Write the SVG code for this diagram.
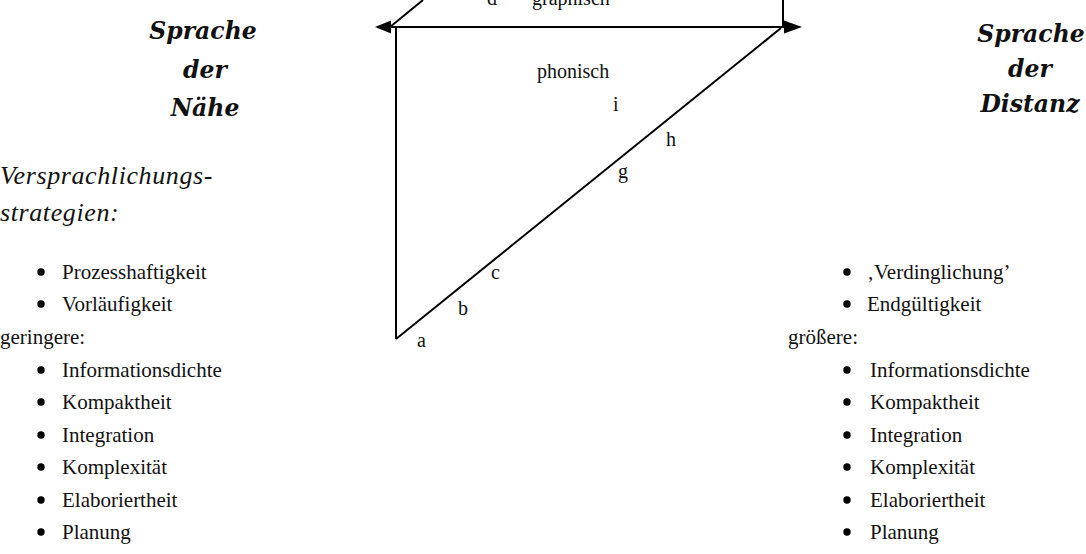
<svg xmlns="http://www.w3.org/2000/svg" width="1086" height="554" viewBox="0 0 1086 554">
<defs>
<style>
.t{font-family:"Liberation Serif","Times New Roman",serif;font-size:21px;fill:#111}
.lbl{font-family:"Liberation Serif","Times New Roman",serif;font-size:20px;fill:#111}
.h{font-family:"DejaVu Serif","Liberation Serif",serif;font-size:23.5px;font-weight:bold;font-style:italic;fill:#111;text-anchor:middle}
.it{font-family:"Liberation Serif","Times New Roman",serif;font-size:26px;font-style:italic;letter-spacing:0.6px;fill:#111}
.ln{stroke:#000;stroke-width:2;fill:none}
.b{fill:#000}
</style>
</defs>
<rect width="1086" height="554" fill="#fff"/>

<g id="connectors">
<line class="ln" x1="390" y1="27" x2="784" y2="27"/>
<polygon points="375,27 391,20.5 391,33.5" fill="#000"/>
<polygon points="802,27 784,20.5 784,33.5" fill="#000"/>
<line class="ln" x1="396" y1="27" x2="396" y2="339"/>
<line class="ln" x1="396" y1="339" x2="781" y2="28"/>
<line class="ln" x1="390" y1="27" x2="423" y2="0"/>
<line class="ln" x1="783" y1="0" x2="783" y2="27"/>
</g>

<g id="triangle-labels">
<text class="lbl" x="487" y="5">d</text>
<text class="lbl" x="532" y="5">graphisch</text>
<text class="lbl" x="537" y="78">phonisch</text>
<text class="lbl" x="613" y="111">i</text>
<text class="lbl" x="666" y="146">h</text>
<text class="lbl" x="618" y="178">g</text>
<text class="lbl" x="491" y="279">c</text>
<text class="lbl" x="458" y="315">b</text>
<text class="lbl" x="417" y="347">a</text>
</g>

<g id="naehe">
<text class="h" x="203" y="39">Sprache</text>
<text class="h" x="205" y="78">der</text>
<text class="h" x="205" y="116">Nähe</text>
<text class="it" x="0" y="184">Versprachlichungs-</text>
<text class="it" x="0" y="221">strategien:</text>
<circle class="b" cx="41" cy="272" r="3.7"/><text class="t" x="62" y="279">Prozesshaftigkeit</text>
<circle class="b" cx="41" cy="304" r="3.7"/><text class="t" x="62" y="311">Vorläufigkeit</text>
<text class="t" x="0" y="344">geringere:</text>
<circle class="b" cx="41" cy="370" r="3.7"/><text class="t" x="62" y="377">Informationsdichte</text>
<circle class="b" cx="41" cy="402" r="3.7"/><text class="t" x="62" y="409">Kompaktheit</text>
<circle class="b" cx="41" cy="435" r="3.7"/><text class="t" x="62" y="442">Integration</text>
<circle class="b" cx="41" cy="467" r="3.7"/><text class="t" x="62" y="474">Komplexität</text>
<circle class="b" cx="41" cy="500" r="3.7"/><text class="t" x="62" y="507">Elaboriertheit</text>
<circle class="b" cx="41" cy="532" r="3.7"/><text class="t" x="62" y="539">Planung</text>
</g>

<g id="distanz">
<text class="h" x="1031" y="42">Sprache</text>
<text class="h" x="1030" y="77">der</text>
<text class="h" x="1030" y="112">Distanz</text>
<circle class="b" cx="847" cy="272" r="3.7"/><text class="t" x="867" y="279">‚Verdinglichung’</text>
<circle class="b" cx="847" cy="304" r="3.7"/><text class="t" x="867" y="311">Endgültigkeit</text>
<text class="t" x="788" y="344">größere:</text>
<circle class="b" cx="847" cy="370" r="3.7"/><text class="t" x="870" y="377">Informationsdichte</text>
<circle class="b" cx="847" cy="402" r="3.7"/><text class="t" x="870" y="409">Kompaktheit</text>
<circle class="b" cx="847" cy="435" r="3.7"/><text class="t" x="870" y="442">Integration</text>
<circle class="b" cx="847" cy="467" r="3.7"/><text class="t" x="870" y="474">Komplexität</text>
<circle class="b" cx="847" cy="500" r="3.7"/><text class="t" x="870" y="507">Elaboriertheit</text>
<circle class="b" cx="847" cy="532" r="3.7"/><text class="t" x="870" y="539">Planung</text>
</g>
</svg>
